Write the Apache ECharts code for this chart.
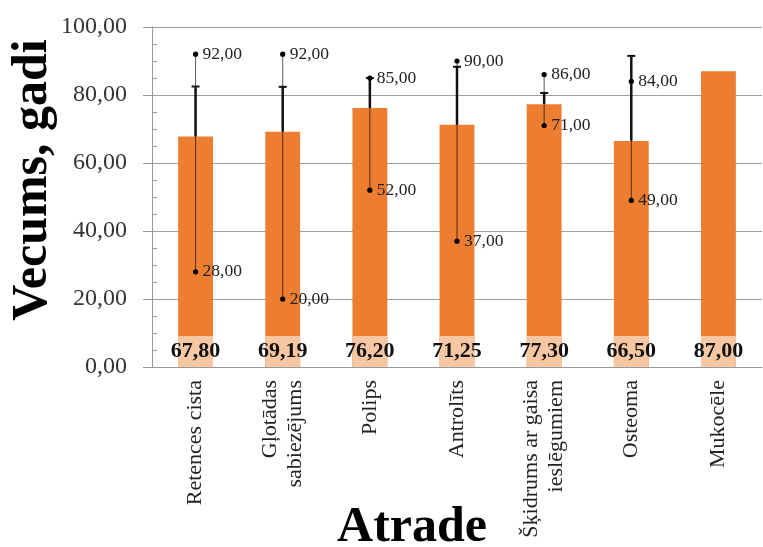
<!DOCTYPE html>
<html>
<head>
<meta charset="utf-8">
<script src="https://cdn.jsdelivr.net/npm/echarts@6/dist/echarts.min.js"></script>
<style>
html,body{margin:0;padding:0;background:#fff;}
#chart{width:763px;height:547px;}
</style>
</head>
<body>
<div id="chart"></div>
<script>
const categories = ['Retences cista', 'Gļotādas\nsabiezējums', 'Polips', 'Antrolīts', 'Šķidrums ar gaisa\nieslēgumiem', 'Osteoma', 'Mukocēle'];
const meanValues = [67.80, 69.19, 76.20, 71.25, 77.30, 66.50, 87.00];
const sdUpperValues = [82.5, 82.4, 85.0, 88.3, 80.6, 91.5, null];
const maxValues = [92, 92, 85, 90, 86, 84, null];
const minValues = [28, 20, 52, 37, 71, 49, null];

const fmt = v => v.toFixed(2).replace('.', ',');
const SERIF = '"Liberation Serif", "Times New Roman", serif';
const BAR_RATIO = 0.4;

const rangeData = [];
categories.forEach((c, i) => {
  if (maxValues[i] != null) rangeData.push([i, minValues[i], maxValues[i], meanValues[i], sdUpperValues[i]]);
});
const meanLabelData = meanValues.map((v, i) => [i, v]);

const chart = echarts.init(document.getElementById('chart'), null, {renderer: 'canvas'});
chart.setOption({
  animation: false,
  backgroundColor: '#fff',
  grid: {left: 152, right: 1, top: 27, bottom: 180, containLabel: false, outerBoundsMode: 'none'},
  xAxis: {
    type: 'category',
    data: categories,
    axisLine: {lineStyle: {color: '#999', width: 1}},
    axisTick: {length: 5, lineStyle: {color: '#999'}},
    axisLabel: {rotate: 90, interval: 0, margin: 13, fontFamily: SERIF, fontSize: 22, color: '#222', lineHeight: 25},
    name: 'Atrade',
    nameLocation: 'middle',
    nameGap: 136,
    nameMoveOverlap: false,
    nameTextStyle: {fontFamily: SERIF, fontWeight: 'bold', fontSize: 50, color: '#000', padding: [0, 90, 0, 0]}
  },
  yAxis: [{
    type: 'value',
    min: 0, max: 100, interval: 20,
    axisLine: {show: true, lineStyle: {color: '#999'}},
    axisTick: {show: true, length: 9, lineStyle: {color: '#999'}},
    splitLine: {lineStyle: {color: '#a0a0a0', width: 1}},
    axisLabel: {formatter: fmt, margin: 25, fontFamily: SERIF, fontSize: 24, color: '#333'},
    name: 'Vecums, gadi',
    nameLocation: 'middle',
    nameGap: 94,
    nameMoveOverlap: false,
    nameTextStyle: {fontFamily: SERIF, fontWeight: 'bold', fontSize: 50, color: '#000', padding: [0, 0, 0, 34]}
  }, {
    type: 'value',
    min: 0, max: 100, interval: 5,
    position: 'left',
    axisLine: {show: false},
    axisTick: {show: true, inside: true, length: 5, lineStyle: {color: '#999'}},
    axisLabel: {show: false},
    splitLine: {show: false}
  }],
  series: [{
    type: 'bar',
    name: 'Vidējais vecums',
    data: meanValues,
    barWidth: (BAR_RATIO * 100) + '%',
    itemStyle: {color: '#ED7D31'},
    z: 2
  }, {
    type: 'custom',
    name: 'mean labels',
    data: meanLabelData,
    encode: {x: 0, y: 1},
    z: 3,
    renderItem: function (params, api) {
      const p = api.coord([api.value(0), 0]);
      const w = api.size([1, 0])[0] * BAR_RATIO;
      const h = 31;
      return {
        type: 'group',
        children: [{
          type: 'rect',
          shape: {x: p[0] - w / 2, y: p[1] - h, width: w, height: h},
          style: {fill: '#F7C7A4'}
        }, {
          type: 'text',
          x: p[0], y: p[1] - h / 2,
          style: {text: fmt(api.value(1)), align: 'center', verticalAlign: 'middle', font: 'bold 22px ' + SERIF, fill: '#111'}
        }]
      };
    }
  }, {
    type: 'custom',
    name: 'range',
    data: rangeData,
    encode: {x: 0, y: [1, 2]},
    z: 4,
    renderItem: function (params, api) {
      const i = api.value(0);
      const pMin = api.coord([i, api.value(1)]);
      const pMax = api.coord([i, api.value(2)]);
      const pMean = api.coord([i, api.value(3)]);
      const pSd = api.coord([i, api.value(4)]);
      const x = pMin[0];
      const txt = (v, y) => ({
        type: 'text', x: x + 7, y: y,
        style: {text: fmt(v), align: 'left', verticalAlign: 'middle', font: '17.5px ' + SERIF, fill: '#222'}
      });
      return {
        type: 'group',
        children: [
          {type: 'line', shape: {x1: x, y1: pMax[1], x2: x, y2: pMin[1]}, style: {stroke: 'rgba(0,0,0,0.65)', lineWidth: 1}},
          {type: 'line', shape: {x1: x, y1: pMean[1], x2: x, y2: pSd[1]}, style: {stroke: '#111', lineWidth: 2.5}},
          {type: 'line', shape: {x1: x - 4, y1: pSd[1], x2: x + 4, y2: pSd[1]}, style: {stroke: '#111', lineWidth: 2}},
          {type: 'circle', shape: {cx: x, cy: pMax[1], r: 2.6}, style: {fill: '#000'}},
          {type: 'circle', shape: {cx: x, cy: pMin[1], r: 2.6}, style: {fill: '#000'}},
          txt(api.value(2), pMax[1]),
          txt(api.value(1), pMin[1])
        ]
      };
    }
  }]
});
</script>
</body>
</html>
